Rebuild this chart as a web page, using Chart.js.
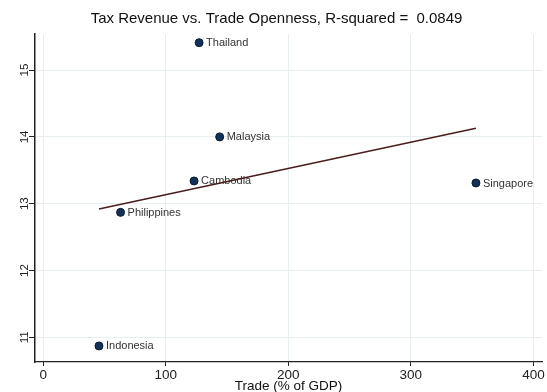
<!DOCTYPE html>
<html>
<head>
<meta charset="utf-8">
<title>Tax Revenue vs. Trade Openness</title>
<script src="https://cdn.jsdelivr.net/npm/chart.js@4/dist/chart.umd.min.js"></script>
<style>
  html, body { margin: 0; padding: 0; background: #fff; }
  canvas { display: block; }
</style>
</head>
<body>
<canvas id="taxTradeChart" width="547" height="392"></canvas>
<script>
// --- DATA ---
const countries = ['Thailand', 'Malaysia', 'Cambodia', 'Philippines', 'Indonesia', 'Singapore'];
const tradeOpenness = [127.2, 144.0, 123.1, 63.1, 45.5, 353.1];   // trade, % of GDP
const taxRevenue = [15.41, 14.00, 13.34, 12.87, 10.87, 13.31];    // tax revenue, % of GDP

// fitted line endpoints (OLS, R-squared 0.0849)
const fitTrade = [45.5, 353.1];
const fitTax = [12.92, 14.13];

const xTicks = [0, 100, 200, 300, 400];
const yTicks = [11, 12, 13, 14, 15];

const FONT = "'Liberation Sans', Arial, Helvetica, sans-serif";
const gridColor = '#e6eef0';
const axisColor = '#222222';

// country names sit to the right of each marker
const pointLabels = {
    id: 'pointLabels',
    beforeDatasetsDraw(chart) {
        const { ctx, scales } = chart;
        ctx.save();
        ctx.font = `11px ${FONT}`;
        ctx.fillStyle = '#333333';
        ctx.textAlign = 'left';
        ctx.textBaseline = 'middle';
        countries.forEach((name, i) => {
            const px = scales.x.getPixelForValue(tradeOpenness[i]);
            const py = scales.y.getPixelForValue(taxRevenue[i]);
            ctx.fillText(name, px + 7, py + 0.5);
        });
        ctx.restore();
    }
};

const chart = new Chart(document.getElementById('taxTradeChart'), {
    type: 'scatter',
    data: {
        datasets: [
            {
                label: 'Tax revenue',
                data: tradeOpenness.map((x, i) => ({ x, y: taxRevenue[i] })),
                backgroundColor: '#12325a',
                borderColor: '#0a1a2e',
                borderWidth: 1,
                pointRadius: 4,
                order: 2
            },
            {
                type: 'line',
                label: 'Fitted values',
                data: fitTrade.map((x, i) => ({ x, y: fitTax[i] })),
                borderColor: '#4a1d1d',
                borderWidth: 1.4,
                pointRadius: 0,
                fill: false,
                order: 1
            }
        ]
    },
    options: {
        responsive: false,
        devicePixelRatio: 1,
        animation: false,
        layout: { padding: { left: 6, right: 0, top: 0, bottom: 0 } },
        plugins: {
            legend: { display: false },
            tooltip: { enabled: false },
            title: {
                display: true,
                text: 'Tax Revenue vs. Trade Openness, R-squared =  0.0849',
                color: '#111111',
                font: { family: FONT, size: 15, weight: 'normal', lineHeight: 1.2 },
                padding: { top: 10, bottom: 6 }
            }
        },
        scales: {
            x: {
                type: 'linear',
                min: -6.7,
                max: 407,
                afterBuildTicks: (scale) => { scale.ticks = xTicks.map(v => ({ value: v })); },
                afterFit: (scale) => { scale.height = 30; scale.paddingRight = 0; },
                grid: { color: gridColor, lineWidth: 1, drawTicks: true, tickLength: 4, tickColor: axisColor },
                border: { display: true, color: axisColor, width: 1.2 },
                ticks: { color: '#222222', font: { family: FONT, size: 13.5 }, padding: 1, maxRotation: 0 },
                title: {
                    display: true,
                    text: 'Trade (% of GDP)',
                    color: '#111111',
                    font: { family: FONT, size: 13.5, lineHeight: 1 },
                    padding: { top: 0, bottom: -1.5 }
                }
            },
            y: {
                type: 'linear',
                min: 10.63,
                max: 15.54,
                afterBuildTicks: (scale) => { scale.ticks = yTicks.map(v => ({ value: v })); },
                afterFit: (scale) => { scale.width = 29; },
                grid: { color: gridColor, lineWidth: 1, drawTicks: true, tickLength: 6, tickColor: axisColor },
                border: { display: true, color: axisColor, width: 1.5 },
                ticks: {
                    color: '#222222',
                    font: { family: FONT, size: 11.5 },
                    minRotation: 90,
                    maxRotation: 90,
                    crossAlign: 'center',
                    padding: -2.5
                }
            }
        }
    },
    plugins: [pointLabels]
});
</script>
</body>
</html>
